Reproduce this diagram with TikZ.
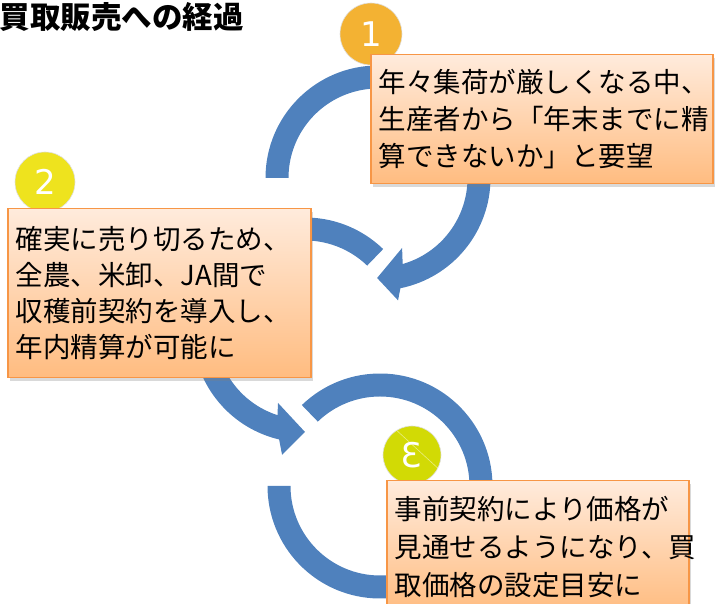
\documentclass[tikz,border=0pt]{standalone}
\usepackage{fontspec}
\usepackage{graphicx}
\setmainfont{Noto Sans CJK JP}
\newfontfamily\numfont{DejaVu Sans}
\usetikzlibrary{shadows}

\definecolor{arcblue}{HTML}{4F81BD}
\definecolor{boxline}{HTML}{F79646}
\definecolor{boxtop}{HTML}{FFEBDC}
\definecolor{boxbottom}{HTML}{FFBC80}
\definecolor{badgeone}{HTML}{F3B233}
\definecolor{badgetwo}{HTML}{EEE31E}
\definecolor{badgethree}{HTML}{D2DA05}

\begin{document}
\begin{tikzpicture}[x=1pt, y=1pt,
    stepbox/.style={draw=boxline, line width=1.5pt, top color=boxtop, bottom color=boxbottom,
        drop shadow={shadow xshift=2pt, shadow yshift=-3pt, opacity=0.3},
        anchor=north west, align=left, inner xsep=8pt, inner ysep=0pt},
    badge/.style={circle, inner sep=0pt, minimum size=60pt, draw=white!75!gray, line width=0.6pt,
        text=white, font=\numfont\fontsize{34pt}{34pt}\selectfont}]
    \useasboundingbox (0,0) rectangle (718,604);

    \node[anchor=west, font=\bfseries\fontsize{30.5pt}{30.5pt}\selectfont] (title) at (-4,587) {買取販売への経過};

    \coordinate (c1) at (378,426);
    \coordinate (c2) at (305,274);
    \coordinate (c3) at (380,118);

    %% arrows
    \fill[arcblue] ([shift={(180:112.5)}]c1) arc[start angle=180, end angle=-78.5, radius=112.5]
        -- ([shift={(-80.7:124)}]c1) -- ([shift={(-90.5:100)}]c1) -- ([shift={(-71:74)}]c1)
        -- ([shift={(-74:89.5)}]c1) arc[start angle=-74, end angle=180, radius=89.5] -- cycle;
    \fill[arcblue] ([shift={(46:112.5)}]c2) arc[start angle=46, end angle=256.7, radius=112.5]
        -- ([shift={(259.6:127)}]c2) -- ([shift={(270:102)}]c2) -- ([shift={(249.7:77.8)}]c2)
        -- ([shift={(252.1:89.5)}]c2) arc[start angle=252.1, end angle=46, radius=89.5] -- cycle;
    \fill[arcblue] ([shift={(134:112.5)}]c3) arc[start angle=134, end angle=-180, radius=112.5]
        -- ([shift={(180:89.5)}]c3) arc[start angle=-180, end angle=134, radius=89.5] -- cycle;

    %% badges
    \node[badge, fill=badgeone, minimum size=62pt] (n1) at (371,570) {1};
    \node[badge, fill=badgetwo] (n2) at (45,422) {2};
    \node[badge, fill=badgethree, minimum size=58pt] (n3) at (412,149) {\reflectbox{3}};
    \draw[white, opacity=0.5, line width=0.6pt] ([shift={(122:29)}]n3.center) -- ([shift={(-27:29)}]n3.center);

    %% boxes
    \node[stepbox, minimum width=342, minimum height=129, text width=326,
        font=\fontsize{27.5pt}{37pt}\selectfont] (b1) at (370,550)
        {年々集荷が厳しくなる中、\\生産者から「年末までに精\\算できないか」と要望};
    \node[stepbox, minimum width=303, minimum height=169, text width=287,
        font=\fontsize{27.5pt}{36pt}\selectfont] (b2) at (7,396)
        {確実に売り切るため、\\全農、米卸、JA間で\\収穫前契約を導入し、\\年内精算が可能に};
    \node[stepbox, minimum width=302, minimum height=132, text width=286,
        font=\fontsize{27.5pt}{38pt}\selectfont] (b3) at (386,124)
        {事前契約により価格が\\見通せるようになり、買\\取価格の設定目安に};
\end{tikzpicture}
\end{document}
